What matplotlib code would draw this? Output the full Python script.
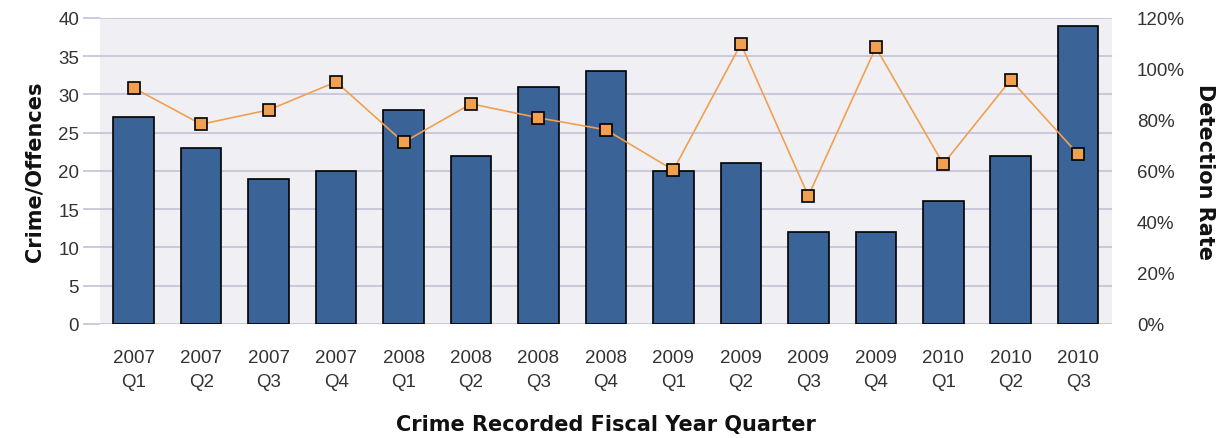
import matplotlib
matplotlib.use('Agg')
import matplotlib.pyplot as plt
from matplotlib.ticker import FuncFormatter

plt.rcParams['font.family'] = ['Liberation Sans', 'DejaVu Sans']

quarters = ['2007\nQ1', '2007\nQ2', '2007\nQ3', '2007\nQ4',
            '2008\nQ1', '2008\nQ2', '2008\nQ3', '2008\nQ4',
            '2009\nQ1', '2009\nQ2', '2009\nQ3', '2009\nQ4',
            '2010\nQ1', '2010\nQ2', '2010\nQ3']
offences = [27, 23, 19, 20, 28, 22, 31, 33, 20, 21, 12, 12, 16, 22, 39]
detection = [92.5, 78.3, 83.9, 94.9, 71.2, 86.3, 80.8, 76.1, 60.3, 109.8,
             50.2, 108.4, 62.7, 95.7, 66.5]

label_font = dict(family='DejaVu Sans', fontsize=15, fontweight='bold', color='#111111')

fig = plt.figure(figsize=(12.3, 4.39), dpi=100)
ax = fig.add_axes([0.0813, 0.26, 0.8227, 0.697])
ax.set_facecolor('#f0f0f4')

x = list(range(len(quarters)))
ax.bar(x, offences, width=0.6, color='#3a6497', edgecolor='black', linewidth=1.2, zorder=3)
ax.set_xlim(-0.5, len(quarters) - 0.5)
ax.set_ylim(0, 40)
ax.set_yticks(range(0, 41, 5))
ax.yaxis.grid(True, color='#c2c2d6', linewidth=1.2, zorder=0)
ax.set_axisbelow(True)
for s in ax.spines.values():
    s.set_visible(False)
ax.tick_params(axis='y', length=12, color='#c2c2d6', width=1.2, labelsize=13.5,
               labelcolor='#333333', pad=3)
ax.tick_params(axis='x', length=0, labelsize=13.5, labelcolor='#333333', pad=18)
ax.set_xticks(x)
ax.set_xticklabels(quarters, linespacing=1.55)
ax.set_ylabel('Crime/Offences', labelpad=10, **label_font)
ax.set_xlabel('Crime Recorded Fiscal Year Quarter', labelpad=17, **label_font)

ax2 = ax.twinx()
ax2.plot(x, detection, color='#f0a050', linewidth=1.2, marker='s', markersize=8,
         markerfacecolor='#f0a050', markeredgecolor='black', markeredgewidth=1.2, zorder=4)
ax2.set_ylim(0, 120)
ax2.set_yticks(range(0, 121, 20))
ax2.yaxis.set_major_formatter(FuncFormatter(lambda v, p: '%d%%' % v))
for s in ax2.spines.values():
    s.set_visible(False)
ax2.tick_params(axis='y', length=0, labelsize=13.5, labelcolor='#333333', pad=18)
ax2.set_ylabel('Detection Rate', rotation=270, labelpad=22, **label_font)

fig.savefig('out.png', dpi=100)
